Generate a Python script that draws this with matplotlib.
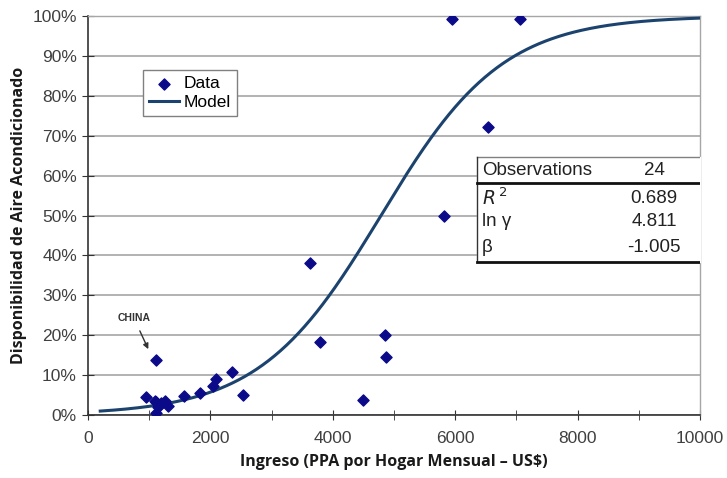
import numpy as np
import matplotlib.pyplot as plt
from matplotlib.ticker import FuncFormatter, MultipleLocator

# income (PPP per household per month, US$) and share with air conditioning (%)
income = [948, 1111, 1111, 1111, 1095, 1150, 1250, 1310, 1200,
          1569, 1830, 2042, 2091, 2353, 2533,
          3627, 3790, 4853, 4869, 4493,
          5948, 7059, 6536, 5817]
ac_share = [4.5, 13.8, 3.3, 0.5, 3.5, 2.0, 3.5, 2.3, 3.0,
            4.8, 5.5, 7.3, 9.0, 10.8, 5.0,
            38.0, 18.3, 20.0, 14.5, 3.8,
            99.2, 99.2, 72.2, 49.9]

# fitted logistic model
n_obs = 24
r2 = 0.689
ln_gamma = 4.811
beta = -1.005

x_model = np.linspace(200, 10000, 400)
y_model = 100.0 / (1.0 + np.exp(ln_gamma + beta * x_model / 1000.0))

navy = "#0b0b8a"
curve_col = "#1b436e"
label_col = "#404040"

fig = plt.figure(figsize=(7.27, 4.78), dpi=100)
ax = fig.add_axes([88 / 727, 63 / 478, 612 / 727, 399 / 478])

ax.plot(x_model, y_model, color=curve_col, lw=2.2, label="Model", zorder=3)
ax.scatter(income, ac_share, marker="D", s=32, color=navy, label="Data", zorder=4)

ax.set_xlim(0, 10000)
ax.set_ylim(0, 100)
ax.xaxis.set_major_locator(MultipleLocator(2000))
ax.xaxis.set_minor_locator(MultipleLocator(1000))
ax.yaxis.set_major_locator(MultipleLocator(10))
ax.yaxis.set_major_formatter(FuncFormatter(lambda v, p: f"{v:.0f}%"))
ax.grid(axis="y", color="#a6a6a6", lw=1.2, zorder=0)

for side in ["top", "right"]:
    ax.spines[side].set_color("#a6a6a6")
    ax.spines[side].set_linewidth(1.0)
for side in ["left", "bottom"]:
    ax.spines[side].set_color("#333333")
    ax.spines[side].set_linewidth(1.2)

ax.tick_params(axis="both", which="both", direction="inout", color="#333333",
               labelcolor=label_col, labelsize=12.5)
ax.tick_params(axis="x", which="major", length=7, pad=8)
ax.tick_params(axis="x", which="minor", length=7)
ax.tick_params(axis="y", length=8, pad=4)
for lab in ax.get_xticklabels() + ax.get_yticklabels():
    lab.set_family("Liberation Sans")

ax.set_xlabel("Ingreso (PPA por Hogar Mensual \u2013 US$)", fontsize=11.5,
              fontweight="bold", family="Open Sans", color="#1a1a1a", labelpad=6)
ax.set_ylabel("Disponibilidad de Aire Acondicionado", fontsize=11.5,
              fontweight="bold", family="Open Sans", color="#1a1a1a", labelpad=4)

# legend
handles, labels = ax.get_legend_handles_labels()
leg = ax.legend(handles[::-1], labels[::-1], loc="upper left",
                bbox_to_anchor=(0.09, 0.865), borderaxespad=0, frameon=True,
                fancybox=False, edgecolor="#808080", framealpha=1,
                borderpad=0.35, handlelength=1.7, handletextpad=0.3,
                labelspacing=0.2,
                prop={"family": "Liberation Sans", "size": 12.5})
leg.get_frame().set_linewidth(1.0)

# statistics box
x0, x1 = 0.636, 1.0
y_bot, y_sep, y_top = 0.383, 0.581, 0.647
ax.fill_between([x0, x1], y_bot, y_top, color="white", transform=ax.transAxes,
                zorder=5)
ax.plot([x0, x1], [y_top, y_top], color="#808080", lw=1.0,
        transform=ax.transAxes, zorder=6)
ax.plot([x0, x0], [y_bot, y_top], color="#333333", lw=1.0,
        transform=ax.transAxes, zorder=6)
ax.plot([x0, x1], [y_sep, y_sep], color="#111111", lw=2.0,
        transform=ax.transAxes, zorder=6)
ax.plot([x0, x1], [y_bot, y_bot], color="#111111", lw=2.0,
        transform=ax.transAxes, zorder=6)

rows = [("Observations", f"{n_obs}", 0.612),
        ("$R^{\\,2}$", f"{r2:.3f}", 0.543),
        ("ln \u03b3", f"{ln_gamma:.3f}", 0.485),
        ("\u03b2", f"{beta:.3f}", 0.420)]
for name, val, yy in rows:
    ax.text(x0 + 0.008, yy, name, transform=ax.transAxes, ha="left",
            va="center", fontsize=13.5, color="#222222",
            family=["Liberation Sans", "DejaVu Sans"], zorder=7)
    ax.text(0.925, yy, val, transform=ax.transAxes, ha="center",
            va="center", fontsize=13.5, color="#222222",
            family="Liberation Sans", zorder=7)

# China annotation
ax.annotate("CHINA", xy=(985, 16.5), xytext=(750, 24.3),
            fontsize=7.5, fontweight="bold", family="Liberation Sans",
            color="#333333", ha="center", va="center",
            arrowprops=dict(arrowstyle="-|>", color="#333333", lw=1.0,
                            mutation_scale=8, shrinkA=4, shrinkB=0))

fig.savefig("out.png", dpi=100)
